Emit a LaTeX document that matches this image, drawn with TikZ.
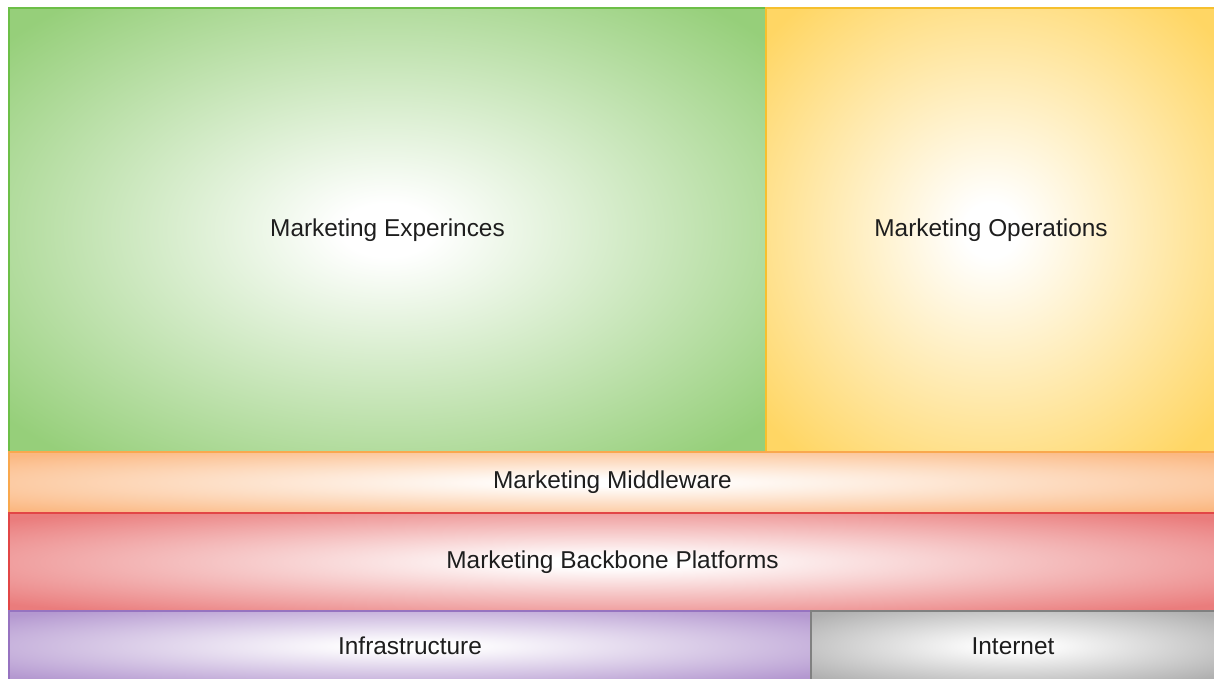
\documentclass[tikz,border=0pt]{standalone}
\usepackage{fontspec}
\setmainfont{Liberation Sans}
\definecolor{grnF}{RGB}{150,207,122}
\definecolor{grnD}{RGB}{108,191,71}
\definecolor{ylwF}{RGB}{255,214,100}
\definecolor{ylwD}{RGB}{246,192,46}
\definecolor{orgF}{RGB}{251,184,130}
\definecolor{orgD}{RGB}{249,168,78}
\definecolor{redF}{RGB}{234,124,124}
\definecolor{redD}{RGB}{226,70,70}
\definecolor{purF}{RGB}{180,152,208}
\definecolor{purD}{RGB}{150,115,192}
\definecolor{gryF}{RGB}{176,176,176}
\definecolor{gryD}{RGB}{128,128,128}
\definecolor{txt}{RGB}{30,30,30}
% soft radial fill: white centre, full colour only towards the corners
\newcommand\softshade[2]{%
  \pgfdeclareradialshading{#1}{\pgfpoint{0bp}{0bp}}%
    {color(0bp)=(white); color(3bp)=(white); color(33bp)=(#2); color(50bp)=(#2)}}
\softshade{shGrn}{grnF}
\softshade{shYlw}{ylwF}
\softshade{shOrg}{orgF}
\softshade{shRed}{redF}
\softshade{shPur}{purF}
\softshade{shGry}{gryF}
\tikzset{
  layer/.style n args={2}{draw=#2, line width=1.6pt, shade, shading=#1,
    rectangle, inner sep=0pt, outer sep=0pt,
    text=txt, font=\fontsize{24.4}{29}\selectfont},
}
\begin{document}
\begin{tikzpicture}[x=1pt,y=-1pt]
  \useasboundingbox (0,0) rectangle (1214,679);
  \fill[white] (0,0) rectangle (1214,679);
  \clip (0,0) rectangle (1214,679);
  % upper pair of blocks
  \node[layer={shGrn}{grnD}, minimum width=757pt, minimum height=444pt]
    (exp) at (387.5,230) {Marketing Experinces};
  \node[layer={shYlw}{ylwD}, minimum width=450pt, minimum height=444pt]
    (ops) at (991,230) {Marketing Operations};
  % horizontal bands
  \node[layer={shOrg}{orgD}, minimum width=1207pt, minimum height=61pt]
    (mid) at (612.5,482.5) {Marketing Middleware};
  \node[layer={shRed}{redD}, minimum width=1207pt, minimum height=98pt]
    (back) at (612.5,562) {Marketing Backbone Platforms};
  % bottom row
  \node[layer={shPur}{purD}, minimum width=802pt, minimum height=70pt]
    (infra) at (410,646) {Infrastructure};
  \node[layer={shGry}{gryD}, minimum width=404pt, minimum height=70pt]
    (net) at (1013,646) {Internet};
\end{tikzpicture}
\end{document}
